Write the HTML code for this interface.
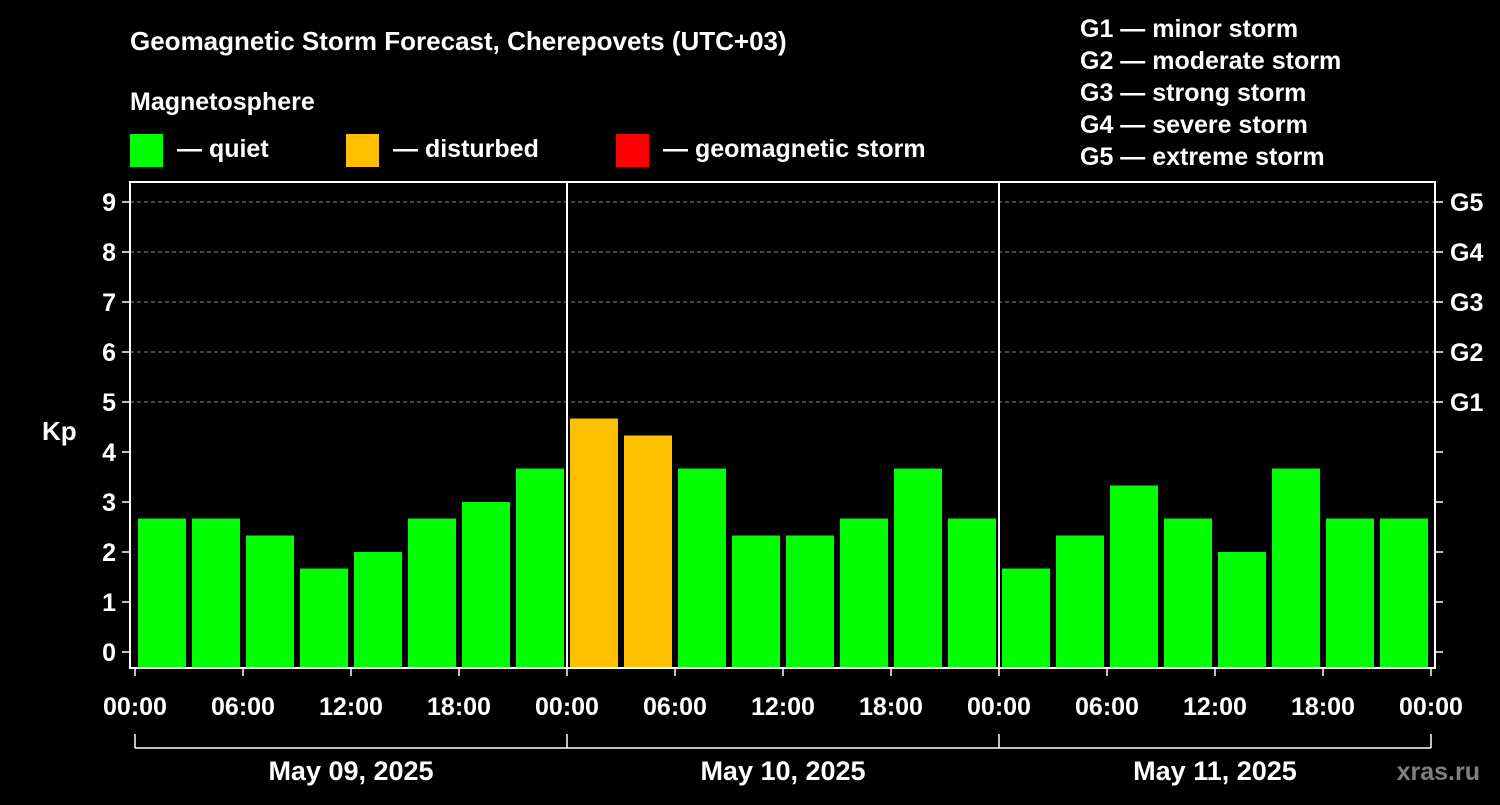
<!DOCTYPE html>
<html><head><meta charset="utf-8"><style>
body{margin:0;background:#000;}
svg text{font-family:"Liberation Sans",Arial,sans-serif;font-weight:bold;fill:#fff;}
</style></head><body>
<svg id="chart" width="1500" height="800" viewBox="0 0 1500 800" xmlns="http://www.w3.org/2000/svg">
<rect width="1500" height="800" fill="#000"/>
<text x="130" y="50" font-size="26">Geomagnetic Storm Forecast, Cherepovets (UTC+03)</text>
<text x="130" y="110" font-size="25">Magnetosphere</text>
<g>
<rect x="130" y="134" width="33" height="33" fill="#00ff00"/>
<text x="177" y="157" font-size="25">— quiet</text>
<rect x="346" y="134" width="33" height="33" fill="#ffc000"/>
<text x="393" y="157" font-size="25">— disturbed</text>
<rect x="616" y="134" width="33" height="33" fill="#ff0000"/>
<text x="663" y="157" font-size="25">— geomagnetic storm</text>
</g>
<g font-size="25">
<text x="1080" y="37">G1 — minor storm</text>
<text x="1080" y="69">G2 — moderate storm</text>
<text x="1080" y="101">G3 — strong storm</text>
<text x="1080" y="133">G4 — severe storm</text>
<text x="1080" y="165">G5 — extreme storm</text>
</g>
<g id="plot"></g>
<text x="42" y="440" font-size="26">Kp</text>
<text x="1480" y="780" font-size="25" text-anchor="end" style="fill:#808080">xras.ru</text>
</svg>
<script>
const kpValues=[2.67,2.67,2.33,1.67,2,2.67,3,3.67, 4.67,4.33,3.67,2.33,2.33,2.67,3.67,2.67, 1.67,2.33,3.33,2.67,2,3.67,2.67,2.67];
const dayLabels=["May 09, 2025","May 10, 2025","May 11, 2025"];
const hourLabels=["00:00","06:00","12:00","18:00"];
const gLabels=["G1","G2","G3","G4","G5"];
const NS="http://www.w3.org/2000/svg";
const g=document.getElementById('plot');
const L=130,R=1435,T=182,B=668,x0=135,pxH=18;
const y=v=>652-v*50;
const x=h=>x0+h*pxH;
function mk(t,a,txt){const e=document.createElementNS(NS,t);for(const k in a)e.setAttribute(k,a[k]);if(txt!==undefined)e.textContent=txt;g.appendChild(e);return e;}
// grid
for(let v=5;v<=9;v++){const e=mk('line',{x1:L,x2:R,y1:y(v),y2:y(v),stroke:'#888','stroke-dasharray':'4,3','stroke-width':1});

}
// bars
kpValues.forEach((v,i)=>{const c=v>=5?'#ff0000':(v>=4?'#ffc000':'#00ff00');
const e=mk('rect',{x:x(i*3)+3,y:y(v),width:48,height:B-y(v),fill:c});

});
// frame
const f=mk('rect',{x:L,y:T,width:R-L,height:B-T,fill:'none',stroke:'#fff','stroke-width':2});


for(let d=1;d<dayLabels.length;d++){const e=mk('line',{x1:x(d*24),x2:x(d*24),y1:T,y2:B,stroke:'#fff','stroke-width':2});

}
// y ticks
for(let v=0;v<=9;v++){mk('line',{x1:L-8,x2:L,y1:y(v),y2:y(v),stroke:'#fff','stroke-width':1.5});
mk('line',{x1:R,x2:R+8,y1:y(v),y2:y(v),stroke:'#fff','stroke-width':1.5});
const t=mk('text',{x:L-14,y:y(v)+9,'font-size':25,'text-anchor':'end'},String(v));

}
gLabels.forEach((s,i)=>{const t=mk('text',{x:1450,y:y(5+i)+9,'font-size':25},s);

});
// x ticks
const days=dayLabels.length;
for(let d=0;d<=days;d++){for(let k=0;k<4;k++){if(d===days&&k>0)break;
const h=d*24+k*6;
mk('line',{x1:x(h),x2:x(h),y1:B,y2:B+8,stroke:'#fff','stroke-width':1.5});
const t=mk('text',{x:x(h),y:715,'font-size':25,'text-anchor':'middle'},hourLabels[k]);

}}
mk('line',{x1:x(0),x2:x(days*24),y1:748,y2:748,stroke:'#fff','stroke-width':1.5});
for(let d=0;d<=days;d++)mk('line',{x1:x(d*24),x2:x(d*24),y1:734,y2:748,stroke:'#fff','stroke-width':1.5});
dayLabels.forEach((s,d)=>{const t=mk('text',{x:x(d*24+12),y:780,'font-size':27,'text-anchor':'middle'},s);

});
</script>
</body></html>
